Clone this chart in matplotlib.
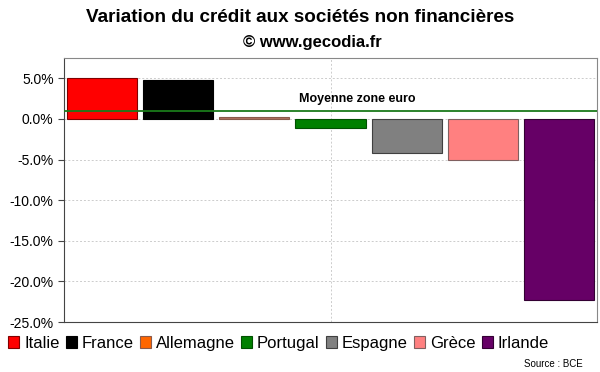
import matplotlib
matplotlib.use("Agg")
import matplotlib.pyplot as plt
from matplotlib.patches import Patch
from matplotlib.ticker import FuncFormatter

plt.rcParams['font.family'] = ['Liberation Sans', 'DejaVu Sans']

countries = ["Italie", "France", "Allemagne", "Portugal", "Espagne", "Grèce", "Irlande"]
values = [5.1, 4.8, 0.3, -1.1, -4.2, -5.1, -22.3]
colors = ["#ff0000", "#000000", "#ff6600", "#008000", "#808080", "#ff8080", "#660066"]
edge_colors = ["#800000", "#000000", "#8a5a4a", "#005000", "#404040", "#806060", "#330033"]
euro_avg = 1.0
avg_label = "Moyenne zone euro"
yticks = [5, 0, -5, -10, -15, -20, -25]

fig = plt.figure(figsize=(6.0, 3.72), dpi=100)
ax = fig.add_axes([0.1067, 0.1344, 0.8883, 0.7096])

x = list(range(len(countries)))
bars = ax.bar(x, values, width=0.92, color=colors, edgecolor=edge_colors, linewidth=0.8, zorder=3)
bars[2].set_facecolor("#b07060")
ax.axhline(euro_avg, color="#1a7a1a", linewidth=1.3, zorder=4)
ax.text(3.35, euro_avg + 0.7, avg_label, ha="center", va="bottom", fontsize=9,
        fontweight="bold", zorder=5)

ax.set_xlim(-0.5, 6.5)
ax.set_ylim(-25, 7.5)
ax.set_yticks(yticks)
ax.yaxis.set_major_formatter(FuncFormatter(lambda v, p: f"{v:.1f}%"))
ax.tick_params(axis="y", labelsize=10, length=4, width=0.8, color="#444444")
ax.set_xticks([3])
ax.set_xticklabels([])
ax.tick_params(axis="x", length=0)
ax.grid(True, axis="both", linestyle=(0, (2, 2)), color="#cccccc", linewidth=0.7, zorder=0)
for s in ["top", "right"]:
    ax.spines[s].set_color("#888888")
    ax.spines[s].set_linewidth(0.8)
ax.spines["left"].set_color("#444444")
ax.spines["bottom"].set_color("#444444")

fig.text(0.5, 0.952, "Variation du crédit aux sociétés non financières", ha="center",
         va="center", fontsize=13.6, fontweight="bold")
fig.text(0.52, 0.887, "© www.gecodia.fr", ha="center", va="center", fontsize=12,
         fontweight="bold")

handles = [Patch(facecolor=c, edgecolor=e, linewidth=0.8) for c, e in zip(colors, edge_colors)]
fig.legend(handles, countries, loc="center left", bbox_to_anchor=(0.014, 0.077), ncol=7,
           frameon=False, fontsize=12, handlelength=0.65, handleheight=0.65,
           handletextpad=0.3, columnspacing=0.38, borderaxespad=0, borderpad=0)

fig.text(0.972, 0.022, "Source : BCE", ha="right", va="center", fontsize=7)

fig.savefig("out.png", dpi=100)
